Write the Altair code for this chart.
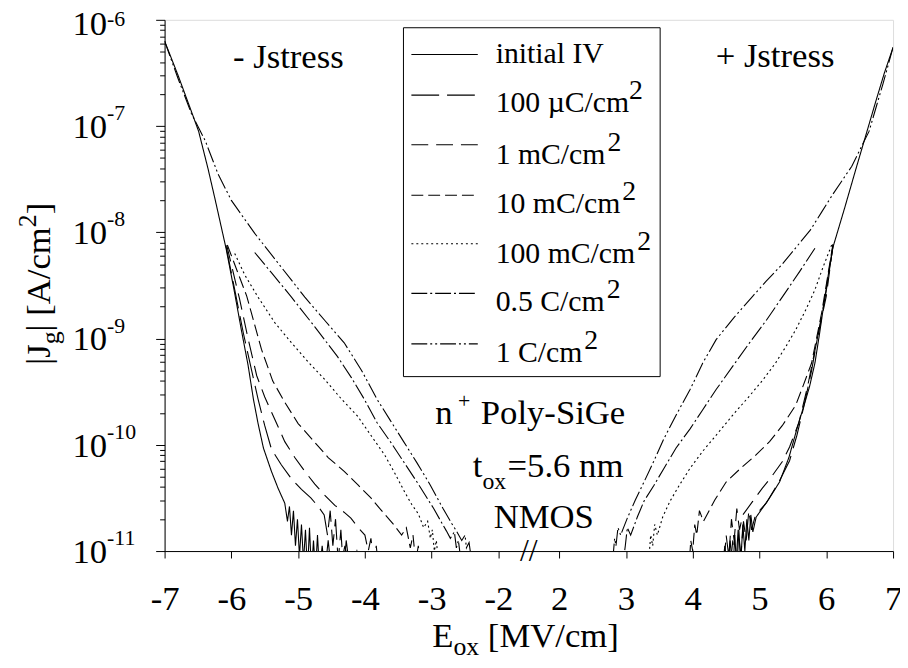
import altair as alt
import pandas as pd

FONT = "Liberation Serif, Times New Roman, Times, serif"

# ---------------- data: (E_ox [MV/cm], log10 |Jg| [A/cm2]) ----------------
SERIES = ["initial IV", "100 µC/cm2", "1 mC/cm2", "10 mC/cm2",
          "100 mC/cm2", "0.5 C/cm2", "1 C/cm2"]

IV_NEG = [(-7.00,-6.20),(-6.80,-6.52),(-6.60,-6.86),(-6.49,-7.05),(-6.35,-7.40),(-6.24,-7.70),
          (-6.08,-8.15),(-5.96,-8.54),(-5.85,-8.92),(-5.75,-9.25),(-5.67,-9.57),(-5.60,-9.80),
          (-5.52,-10.03),(-5.40,-10.25),(-5.30,-10.41),(-5.20,-10.55),(-5.16,-10.72),(-5.13,-10.58),
          (-5.10,-10.85),(-5.07,-10.62),(-5.04,-10.95),(-5.01,-10.70),(-4.98,-11.05),(-4.95,-10.75),
          (-4.92,-11.10),(-4.89,-10.80),(-4.86,-11.20),(-4.83,-10.78),(-4.80,-11.20),(-4.77,-10.90),
          (-4.74,-11.20),(-4.71,-10.85),(-4.68,-11.20),(-4.64,-10.95),(-4.60,-11.20),(-4.55,-10.90),
          (-4.50,-11.20),(-4.45,-11.00),(-4.38,-11.20),(-4.30,-10.95),(-4.22,-11.20),(-4.12,-11.00),
          (-4.05,-11.20)]
IV_POS = [(7.00,-6.26),(6.87,-6.50),(6.74,-6.77),(6.60,-7.07),(6.45,-7.39),(6.28,-7.76),(6.10,-8.14),
          (6.03,-8.40),(5.97,-8.65),(5.90,-8.95),(5.83,-9.23),(5.75,-9.45),(5.68,-9.60),(5.56,-9.85),
          (5.44,-10.12),(5.30,-10.35),(5.15,-10.50),(5.04,-10.60),(4.95,-10.68),(4.90,-10.82),
          (4.87,-10.66),(4.84,-10.90),(4.81,-10.70),(4.78,-11.00),(4.75,-10.75),(4.72,-11.10),
          (4.69,-10.80),(4.66,-11.20),(4.63,-10.85),(4.60,-11.20),(4.56,-10.90),(4.52,-11.20),
          (4.48,-10.95),(4.44,-11.20),(4.40,-11.00),(4.35,-11.20),(4.30,-11.05)]

U100_NEG = [(-6.08,-8.13),(-5.95,-8.54),(-5.82,-8.95),(-5.70,-9.29),(-5.60,-9.57),(-5.50,-9.82),
            (-5.40,-10.04),(-5.25,-10.19),(-5.10,-10.32),(-4.95,-10.42),(-4.81,-10.50),(-4.70,-10.58),
            (-4.61,-10.66),(-4.56,-10.85),(-4.52,-10.62),(-4.48,-10.95),(-4.44,-10.70),(-4.40,-11.10),
            (-4.36,-10.80),(-4.32,-11.20),(-4.28,-10.90),(-4.22,-11.20),(-4.15,-11.00),(-4.08,-11.20)]
U100_POS = [(6.10,-8.13),(6.00,-8.55),(5.88,-8.95),(5.78,-9.30),(5.66,-9.65),(5.56,-9.91),(5.45,-10.15),
            (5.29,-10.35),(5.10,-10.55),(4.94,-10.66),(4.88,-10.80),(4.84,-10.62),(4.80,-10.90),
            (4.76,-10.72),(4.72,-11.05),(4.68,-10.80),(4.64,-11.20),(4.60,-10.90),(4.55,-11.20),
            (4.50,-11.00)]

M1_NEG = [(-6.07,-8.12),(-5.88,-8.62),(-5.75,-9.00),(-5.62,-9.35),(-5.50,-9.55),(-5.40,-9.69),
          (-5.20,-9.97),(-5.05,-10.12),(-4.90,-10.25),(-4.75,-10.37),(-4.61,-10.47),(-4.45,-10.57),
          (-4.30,-10.64),(-4.21,-10.69),(-4.10,-10.78),(-4.00,-10.85),(-3.95,-11.00),(-3.91,-10.88),
          (-3.87,-11.10),(-3.83,-10.95),(-3.79,-11.20),(-3.75,-11.05)]
M1_POS = [(6.10,-8.12),(6.00,-8.60),(5.85,-9.05),(5.72,-9.45),(5.59,-9.79),(5.45,-10.02),(5.34,-10.16),
          (5.18,-10.30),(5.04,-10.41),(4.90,-10.53),(4.75,-10.66),(4.70,-10.80),(4.66,-10.60),
          (4.62,-10.90),(4.58,-10.70),(4.54,-11.05),(4.50,-10.85),(4.46,-11.20),(4.42,-11.00)]

M10_NEG = [(-6.06,-8.12),(-5.77,-8.60),(-5.55,-9.10),(-5.38,-9.40),(-5.20,-9.60),(-5.00,-9.80),
           (-4.76,-9.97),(-4.55,-10.12),(-4.31,-10.25),(-4.10,-10.38),(-3.91,-10.50),(-3.75,-10.62),
           (-3.57,-10.75),(-3.45,-10.85),(-3.38,-10.78),(-3.32,-10.97),(-3.28,-10.85),(-3.24,-11.10),
           (-3.20,-10.95),(-3.16,-11.20)]
M10_POS = [(6.10,-8.11),(5.93,-8.76),(5.78,-9.23),(5.65,-9.45),(5.54,-9.63),(5.34,-9.82),(5.15,-9.97),
           (4.94,-10.10),(4.72,-10.22),(4.50,-10.35),(4.33,-10.52),(4.16,-10.72),(4.10,-10.62),
           (4.06,-10.85),(4.03,-10.75),(4.00,-11.00),(3.97,-10.90),(3.94,-11.20)]

M100_NEG = [(-5.95,-8.20),(-5.80,-8.40),(-5.60,-8.61),(-5.35,-8.85),(-5.10,-9.04),(-4.85,-9.22),
            (-4.61,-9.38),(-4.35,-9.57),(-4.11,-9.73),(-3.90,-9.92),(-3.70,-10.10),(-3.55,-10.27),
            (-3.40,-10.45),(-3.30,-10.56),(-3.20,-10.65),(-3.12,-10.78),(-3.06,-10.72),(-3.02,-10.88),
            (-2.99,-10.80),(-2.96,-11.00),(-2.93,-10.90),(-2.90,-11.10)]
M100_POS = [(6.08,-8.12),(5.95,-8.33),(5.83,-8.54),(5.70,-8.72),(5.54,-8.92),(5.40,-9.07),(5.24,-9.23),
            (5.05,-9.39),(4.85,-9.54),(4.60,-9.72),(4.35,-9.91),(4.15,-10.06),(3.96,-10.22),
            (3.80,-10.38),(3.66,-10.53),(3.55,-10.68),(3.47,-10.85),(3.43,-10.75),(3.40,-10.95),
            (3.37,-10.85),(3.34,-11.10)]

C05_NEG = [(-5.65,-8.19),(-5.40,-8.38),(-5.10,-8.61),(-4.75,-8.89),(-4.41,-9.17),(-4.20,-9.37),
           (-4.01,-9.57),(-3.82,-9.79),(-3.62,-9.97),(-3.42,-10.16),(-3.22,-10.35),(-3.10,-10.47),
           (-2.97,-10.60),(-2.88,-10.70),(-2.78,-10.81),(-2.72,-10.88),(-2.66,-10.82),(-2.63,-10.97),
           (-2.60,-10.90),(-2.56,-11.10)]
C05_POS = [(5.83,-8.15),(5.60,-8.37),(5.34,-8.61),(5.10,-8.83),(4.85,-9.04),(4.60,-9.26),(4.35,-9.48),
           (4.15,-9.67),(3.96,-9.85),(3.75,-10.03),(3.57,-10.22),(3.42,-10.38),(3.27,-10.53),
           (3.17,-10.68),(3.07,-10.85),(3.02,-10.78),(2.99,-10.95),(2.96,-11.10)]

C1_NEG = [(-7.00,-6.20),(-6.80,-6.55),(-6.60,-6.88),(-6.39,-7.14),(-6.20,-7.45),(-6.00,-7.70),
          (-5.82,-7.86),(-5.65,-8.01),(-5.45,-8.17),(-5.25,-8.33),(-4.90,-8.61),(-4.60,-8.83),
          (-4.31,-9.04),(-4.05,-9.30),(-3.82,-9.57),(-3.62,-9.77),(-3.42,-9.97),(-3.22,-10.17),
          (-3.02,-10.38),(-2.83,-10.60),(-2.70,-10.74),(-2.63,-10.81),(-2.55,-10.90),(-2.50,-10.85),
          (-2.48,-10.97),(-2.44,-10.92),(-2.40,-11.10)]
C1_POS = [(7.00,-6.26),(6.85,-6.60),(6.64,-7.05),(6.38,-7.38),(6.10,-7.64),(5.93,-7.81),(5.76,-7.98),
          (5.55,-8.14),(5.34,-8.30),(5.10,-8.46),(4.90,-8.60),(4.62,-8.80),(4.35,-9.01),(4.15,-9.23),
          (3.96,-9.48),(3.76,-9.71),(3.57,-9.94),(3.42,-10.15),(3.27,-10.35),(3.14,-10.52),
          (3.02,-10.69),(2.92,-10.85),(2.88,-10.78),(2.85,-10.95),(2.83,-10.88),(2.80,-11.10)]

NEG = [IV_NEG, U100_NEG, M1_NEG, M10_NEG, M100_NEG, C05_NEG, C1_NEG]
POS = [IV_POS, U100_POS, M1_POS, M10_POS, M100_POS, C05_POS, C1_POS]

X_TICKS = [-7, -6, -5, -4, -3, -2, 2, 3, 4, 5, 6, 7]
Y_DECADES = [-11, -10, -9, -8, -7, -6]
LEGEND_TEXT = ["initial IV", "100 µC/cm", "1 mC/cm", "10 mC/cm", "100 mC/cm", "0.5 C/cm", "1 C/cm"]

# ---------------- styling / layout ----------------
DASHES = [[1, 0], [28, 8], [17, 8], [12, 5], [2, 3], [16, 3, 2, 3], [16, 3, 2, 3, 2, 3]]
SHIFT = 3.09          # broken axis: u = E for E<0, u = E - SHIFT for E>0
W, H = 735, 536

TW = {' ': 250, '|': 200, 'J': 389, 'g': 500, '[': 333, 'A': 722, '/': 278, 'c': 444, 'm': 778,
      ']': 333, 'E': 611, 'o': 500, 'x': 500, 'M': 889, 'V': 722, '2': 500, 'n': 500, '+': 564,
      't': 278, '=': 564, '.': 250, 'C': 667, 'i': 278, 'a': 444, 'l': 278, 'I': 333}


def tw(s, size):
    return sum(TW.get(ch, 500) for ch in s) * size / 1000.0


one = pd.DataFrame({"k": [0]})


def txt(s, x, y, size, angle=0, align="left"):
    return alt.Chart(one).mark_text(text=s, font=FONT, fontSize=size, align=align,
                                    baseline="alphabetic", angle=angle, color="black").encode(
        x=alt.value(x), y=alt.value(y))


rows = []
for name, neg, pos in zip(SERIES, NEG, POS):
    for br, pts in (("n", neg), ("p", pos)):
        for i, (e, l) in enumerate(pts):
            rows.append({"series": name, "grp": name + br, "i": i, "E": e, "lg": l})
df = pd.DataFrame(rows)

xvals = [t if t < 0 else round(t - SHIFT, 3) for t in X_TICKS]
xscale = alt.Scale(domain=[-7, 7 - SHIFT], nice=False, zero=False)
yvals = [k * 10.0 ** n for n in range(-11, -6) for k in range(1, 10)] + [1e-6]
yscale = alt.Scale(type="log", domain=[1e-11, 1e-6], nice=False)

xaxis = alt.Axis(values=xvals, title=None, grid=False,
                 labelExpr=f"datum.value < -1.5 ? '-' + round(-datum.value) : '' + round(datum.value + {SHIFT})",
                 labelFont=FONT, labelFontSize=35, labelColor="black", labelBaseline="alphabetic",
                 labelPadding=52, labelFlush=False, labelOverlap=False,
                 tickSize=7, tickColor="black", tickWidth=1, domainColor="black", domainWidth=1)
yaxis = alt.Axis(values=yvals, labels=False, title=None, grid=False,
                 tickSize={"condition": {"test": "abs(log(datum.value)/LN10 - round(log(datum.value)/LN10)) < 0.001",
                                         "value": 9}, "value": 5},
                 tickColor="black", tickWidth=1, domainColor="black", domainWidth=1)

curves = alt.Chart(df).transform_calculate(
    u=f"datum.E < 0 ? datum.E : datum.E - {SHIFT}", J="pow(10, datum.lg)"
).mark_line(clip=True, color="black", strokeWidth=1.1).encode(
    x=alt.X("u:Q", scale=xscale, axis=xaxis),
    y=alt.Y("J:Q", scale=yscale, axis=yaxis),
    strokeDash=alt.StrokeDash("series:N", scale=alt.Scale(domain=SERIES, range=DASHES), legend=None),
    detail="grp:N",
    order="i:Q",
)

layers = [curves]

# y tick labels 10^n (the top one nudged down so that it stays on the page)
dec = pd.DataFrame({"J": [10.0 ** d for d in Y_DECADES], "e": [str(d) for d in Y_DECADES]})
for part, d10, dexp in ((dec.iloc[:-1], 12, -6), (dec.iloc[-1:], 15, 6)):
    layers.append(alt.Chart(part).mark_text(font=FONT, fontSize=35, align="left", baseline="alphabetic",
                                            dy=d10, color="black").encode(
        x=alt.value(-93), y=alt.Y("J:Q", title=None), text=alt.value("10")))
    layers.append(alt.Chart(part).mark_text(font=FONT, fontSize=22, align="left", baseline="alphabetic",
                                            dy=dexp, color="black").encode(
        x=alt.value(-58), y=alt.Y("J:Q", title=None), text="e:N"))

# axis break mark
layers.append(alt.Chart(pd.DataFrame({"u": [-1.545]})).mark_text(
    text="//", font=FONT, fontSize=32, align="center", baseline="middle", color="black").encode(
    x=alt.X("u:Q", title=None), y=alt.value(H)))

# legend box
layers.append(alt.Chart(one).mark_rect(fill="white", stroke="black", strokeWidth=1).encode(
    x=alt.value(241), x2=alt.value(500), y=alt.value(8), y2=alt.value(360)))
LEG_LINE_Y = [35, 76, 126, 177, 226, 276, 327]
LEG_BASE_Y = [44, 93, 145, 195, 245, 294, 345]
for k in range(len(SERIES)):
    kw = {} if k == 0 else {"strokeDash": DASHES[k]}
    layers.append(alt.Chart(one).mark_rule(color="black", strokeWidth=1.1, **kw).encode(
        x=alt.value(249), x2=alt.value(316), y=alt.value(LEG_LINE_Y[k])))
    layers.append(txt(LEGEND_TEXT[k], 334, LEG_BASE_Y[k], 30))
    if k > 0:
        layers.append(txt("2", 336 + tw(LEGEND_TEXT[k], 30), LEG_BASE_Y[k] - 13, 28))

# annotations
layers.append(txt("- Jstress", 69, 49, 35))
layers.append(txt("+ Jstress", 556, 48, 35))
layers.append(txt("n", 273, 408, 35))
layers.append(txt("+", 296, 392, 22))
layers.append(txt("Poly-SiGe", 319, 408, 35))
layers.append(txt("t", 311, 461, 35))
layers.append(txt("ox", 311 + tw("t", 35), 473, 24))
layers.append(txt("=5.6 nm", 346, 461, 35))
layers.append(txt("NMOS", 332, 513, 35))

# x title  E_ox [MV/cm]
x0, xt = 270, 633
layers.append(txt("E", x0, xt, 35))
layers.append(txt("ox", x0 + tw("E", 35), xt + 8, 26))
layers.append(txt("[MV/cm]", x0 + tw("E", 35) + tw("ox", 26) + tw(" ", 35), xt, 35))

# y title  |J_g| [A/cm^2]  (rotated)
yb, xb = 348, -116
parts = [("|J", 35, 0, 0), ("g", 26, 9, 0), ("|", 35, 0, tw(" ", 35)), ("[A/cm", 35, 0, 0),
         ("2", 26, -14, 0), ("]", 35, 0, 0)]
for s, size, off, gap in parts:
    layers.append(txt(s, xb + off, yb, size, angle=270))
    yb -= tw(s, size) + gap

chart = alt.layer(*layers).properties(
    width=W, height=H,
    autosize=alt.AutoSizeParams(type="none"),
    padding={"left": 158, "top": 9, "right": 7, "bottom": 107},
).configure_view(stroke="black", strokeWidth=1).configure(background="white")

chart.save("out.html", embed_options={"renderer": "svg", "actions": False})
